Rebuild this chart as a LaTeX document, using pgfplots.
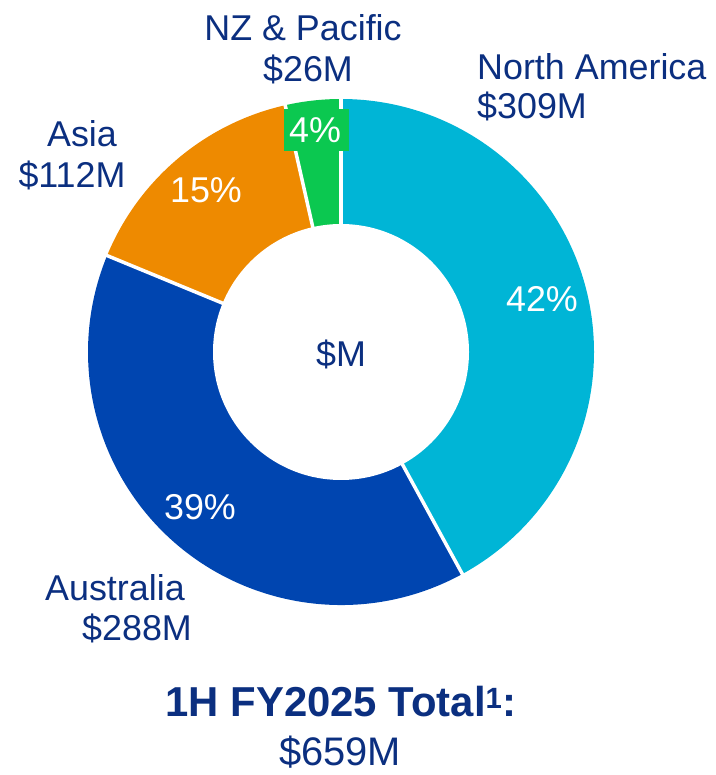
\documentclass[border=0pt]{standalone}
\usepackage{pgfplots}
\pgfplotsset{compat=1.18}
\usepackage{fontspec}
\setmainfont{Liberation Sans}
\definecolor{cNA}{HTML}{00B5D6}
\definecolor{cAU}{HTML}{0045B0}
\definecolor{cAS}{HTML}{EE8A00}
\definecolor{cNZ}{HTML}{0BC850}
\definecolor{txt}{HTML}{0B2F80}
% segment values ($M), clockwise from 12 o'clock
\def\vNA{309}
\def\vAU{288}
\def\vAS{112}
\def\vNZ{26}
\pgfmathsetmacro\tot{\vNA+\vAU+\vAS+\vNZ}
\pgfmathsetmacro\aA{90}
\pgfmathsetmacro\aB{\aA-360*(\vNA/\tot)}
\pgfmathsetmacro\aC{\aB-360*(\vAU/\tot)}
\pgfmathsetmacro\aD{\aC-360*(\vAS/\tot)}
\pgfmathsetmacro\aE{\aD-360*(\vNZ/\tot)}
\newcommand\lbl{\fontsize{36}{40}\selectfont}
\begin{document}
\begin{tikzpicture}
\begin{axis}[
  width=716bp, height=775bp, scale only axis,
  xmin=0, xmax=716, ymin=0, ymax=775,
  axis lines=none, clip=false, ticks=none]
\path (axis cs:0,0) rectangle (axis cs:716,775);
% wedges
\fill[cNA] (axis cs:341,423) -- ++(\aA:253bp) arc[start angle=\aA, end angle=\aB, radius=253bp] -- cycle;
\fill[cAU] (axis cs:341,423) -- ++(\aB:253bp) arc[start angle=\aB, end angle=\aC, radius=253bp] -- cycle;
\fill[cAS] (axis cs:341,423) -- ++(\aC:253bp) arc[start angle=\aC, end angle=\aD, radius=253bp] -- cycle;
\fill[cNZ] (axis cs:341,423) -- ++(\aD:253bp) arc[start angle=\aD, end angle=\aE, radius=253bp] -- cycle;
% separators
\draw[white, line width=3.5bp] (axis cs:341,423) -- ++(\aA:256bp);
\draw[white, line width=3.5bp] (axis cs:341,423) -- ++(\aB:256bp);
\draw[white, line width=3.5bp] (axis cs:341,423) -- ++(\aC:256bp);
\draw[white, line width=3.5bp] (axis cs:341,423) -- ++(\aD:256bp);
% hole
\fill[white] (axis cs:341,423) circle[radius=128bp];
% 4% box
\fill[cNZ] (axis cs:284,624) rectangle (axis cs:349,666);
% percent labels
\node[anchor=base, white, inner sep=0] at (axis cs:542,463) {\lbl 42\%};
\node[anchor=base, white, inner sep=0] at (axis cs:200,255) {\lbl 39\%};
\node[anchor=base, white, inner sep=0] at (axis cs:206,572) {\lbl 15\%};
\node[anchor=base, white, inner sep=0] at (axis cs:315,632) {\lbl 4\%};
% centre
\node[anchor=base, txt, inner sep=0] at (axis cs:341,408) {\lbl \$M};
% category labels
\node[anchor=base, txt, inner sep=0] at (axis cs:303,734) {\lbl NZ \& Pacific};
\node[anchor=base, txt, inner sep=0] at (axis cs:308,693) {\lbl \$26M};
\node[anchor=base west, txt, inner sep=0] at (axis cs:477,695) {\lbl North America};
\node[anchor=base west, txt, inner sep=0] at (axis cs:477,656) {\lbl \$309M};
\node[anchor=base, txt, inner sep=0] at (axis cs:82,628) {\lbl Asia};
\node[anchor=base, txt, inner sep=0] at (axis cs:72,587) {\lbl \$112M};
\node[anchor=base west, txt, inner sep=0] at (axis cs:45,174) {\lbl Australia};
\node[anchor=base west, txt, inner sep=0] at (axis cs:82,134) {\lbl \$288M};
% total
\node[anchor=base, txt, inner sep=0] at (axis cs:341,58) {\fontsize{42}{46}\selectfont\bfseries 1H FY2025 Total\textsuperscript{1}:};
\node[anchor=base, txt, inner sep=0] at (axis cs:340,10) {\fontsize{40}{44}\selectfont \$659M};
\end{axis}
\end{tikzpicture}
\end{document}
